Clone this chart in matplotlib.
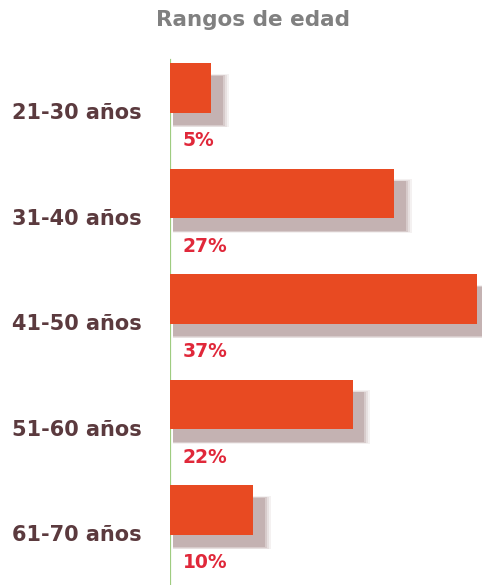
import matplotlib.pyplot as plt

# data
categories = ["21-30 años", "31-40 años", "41-50 años", "51-60 años", "61-70 años"]
values = [5, 27, 37, 22, 10]
pct_labels = ["5%", "27%", "37%", "22%", "10%"]

fig = plt.figure(figsize=(4.9, 5.85), dpi=100)
ax = fig.add_axes([170 / 490, 0, 312 / 490, 1])

pos = list(range(len(categories)))
bar_h = 0.47

ax.set_xlim(0, 37.6)
ax.set_ylim((585 - 88) / 105.5, -88 / 105.5)
ax.axis("off")

# soft shadow, a few layers to fake the blur
for k, a in enumerate([0.10, 0.14, 0.20, 0.30]):
    grow = (3 - k) * 0.012
    ax.barh([p + 0.12 for p in pos], [v + 1.0 + grow * 20 for v in values],
            height=bar_h + grow, left=0.4, color="#9a7a7a", alpha=a,
            edgecolor="none", zorder=1)

ax.barh(pos, values, height=bar_h, color="#e84a22", edgecolor="none", zorder=3)

# green axis line
ax.axvline(0, ymin=0, ymax=1 - 60 / 585, color="#9fcc80", lw=1.6, zorder=2)

for p, lab in zip(pos, pct_labels):
    ax.text(1.5, p + 0.5, lab, color="#e0283a", fontsize=13.5, fontweight="bold",
            va="center", ha="left", zorder=4)

for p, cat in zip(pos, categories):
    y_fig = ax.transData.transform((0, p + 0.24))[1]
    fig.text(142 / 490, y_fig / fig.bbox.height, cat, color="#5b3a3e",
             fontsize=15, fontweight="bold", ha="right", va="center")

fig.text(253 / 490, 1 - 20 / 585, "Rangos de edad", color="#808080",
         fontsize=15.5, fontweight="bold", ha="center", va="center")

fig.savefig("out.png", dpi=100)
